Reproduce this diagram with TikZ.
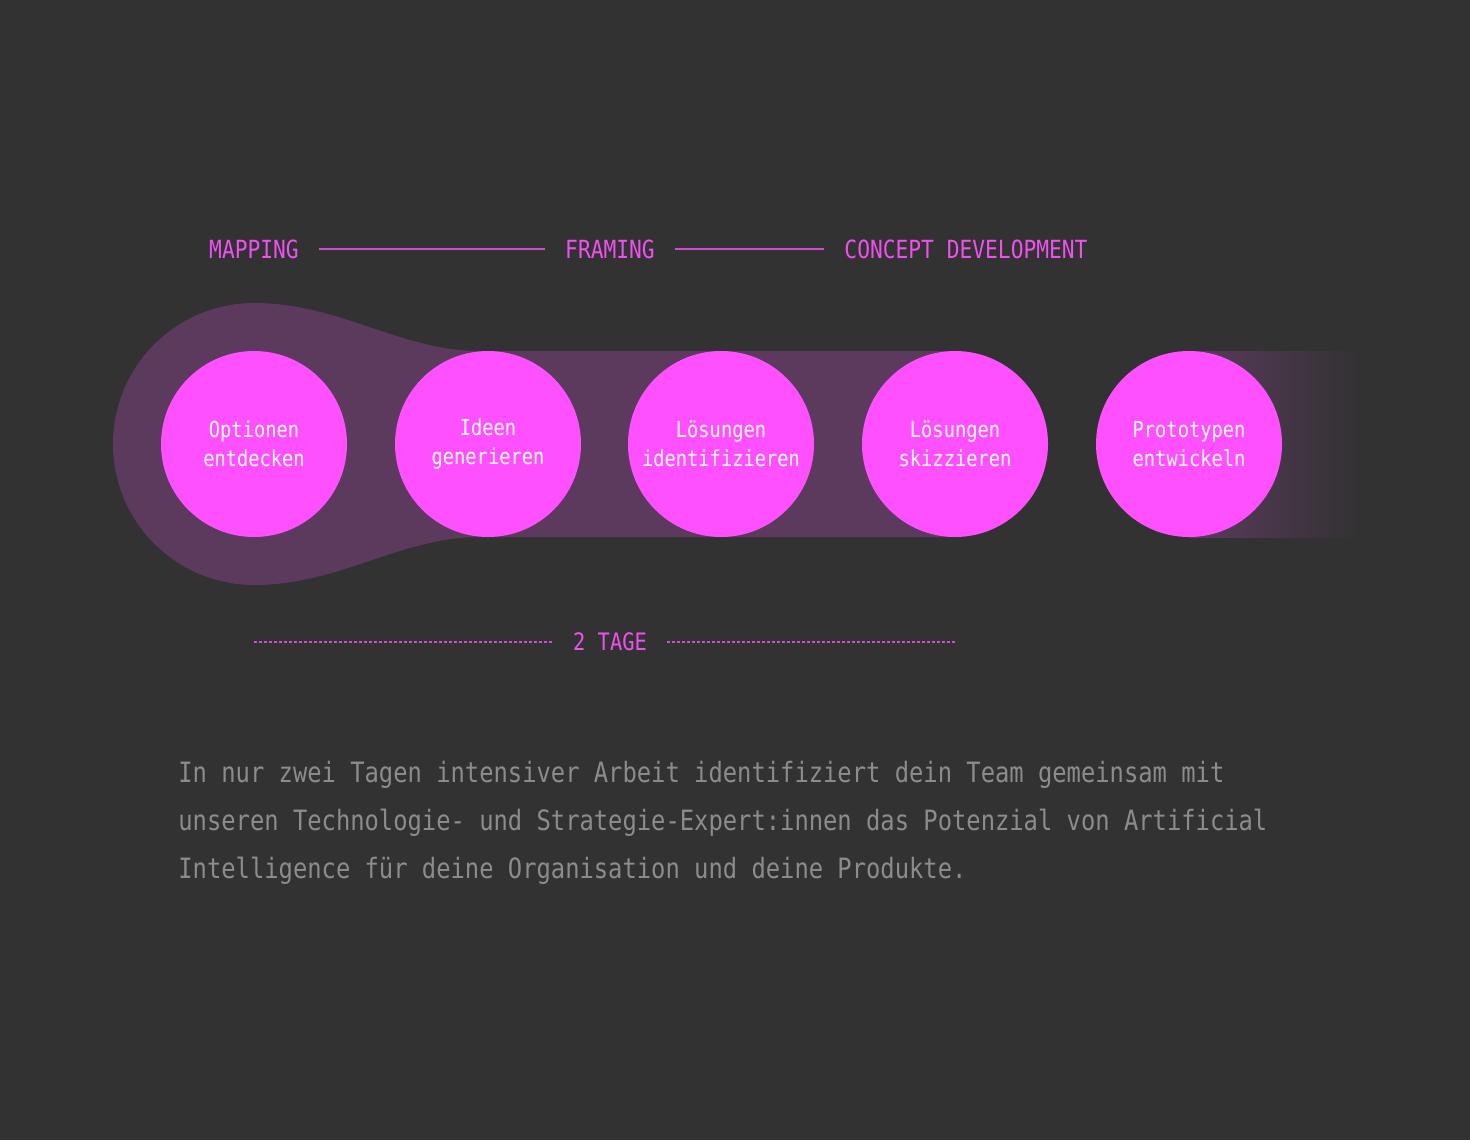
\documentclass[tikz,border=0pt]{standalone}
\usepackage{fontspec}
\usepackage{xcolor}
\newfontfamily\diagfont[FakeStretch=0.85]{DejaVu Sans Mono}
\usetikzlibrary{positioning, calc}
\definecolor{bgGray}{RGB}{50, 50, 50}
\definecolor{stageMagenta}{RGB}{255, 80, 255}
\definecolor{bandPurple}{RGB}{91, 58, 93}
\definecolor{labelMagenta}{RGB}{240, 80, 240}
\definecolor{bodyGray}{RGB}{140, 140, 140}

\begin{document}
\begin{tikzpicture}[x=0.5pt, y=-0.5pt,
    stage/.style={circle, fill=stageMagenta, text=white, minimum size=93pt, inner sep=0pt, align=center, font=\diagfont\fontsize{11}{14.5}\selectfont},
    phase/.style={text=labelMagenta, inner xsep=10pt, font=\diagfont\fontsize{12.5}{14}\selectfont},
    phaseline/.style={labelMagenta!85!bgGray, line width=0.6pt}]
    % Background
    \fill[bgGray] (0,0) rectangle (1470,1140);

    % Band
    \fill[bandPurple] (254,303) .. controls (340,303) and (400,351) .. (480,351) -- (955,351) -- (955,537) -- (480,537) .. controls (400,537) and (340,585) .. (254,585) arc[start angle=90, end angle=270, radius=141] -- cycle;
    \shade[left color=bandPurple, right color=bgGray] (1189,351) rectangle (1360,537);

    % Stages
    \node[stage] at (254,444) (c1) {Optionen\\entdecken};
    \node[stage] at (488,444) (c2) {Ideen\\generieren};
    \node[stage] at (721,444) (c3) {Lösungen\\identifizieren};
    \node[stage] at (955,444) (c4) {Lösungen\\skizzieren};
    \node[stage] at (1189,444) (c5) {Prototypen\\entwickeln};

    % Phases
    \node[phase] at (254,249) (mapping) {MAPPING};
    \node[phase] at (610,249) (framing) {FRAMING};
    \node[phase] at (966,249) (concept) {CONCEPT DEVELOPMENT};
    \draw[phaseline] (mapping.east) -- (framing.west);
    \draw[phaseline] (framing.east) -- (concept.west);

    % Duration
    \node[phase, font=\diagfont\fontsize{12}{14}\selectfont] at (610,642) (tage) {2 TAGE};
    \draw[phaseline, dash pattern=on 1.5pt off 1pt] (c1 |- tage) -- (tage.west);
    \draw[phaseline, dash pattern=on 1.5pt off 1pt] (tage.east) -- (c4 |- tage);

    % Text
    \node[anchor=north west, inner sep=0pt, align=left, text=bodyGray, font=\diagfont\fontsize{14}{24}\selectfont] at (178,761) (intro) {In nur zwei Tagen intensiver Arbeit identifiziert dein Team gemeinsam mit\\unseren Technologie- und Strategie-Expert:innen das Potenzial von Artificial\\Intelligence für deine Organisation und deine Produkte.};
\end{tikzpicture}
\end{document}
